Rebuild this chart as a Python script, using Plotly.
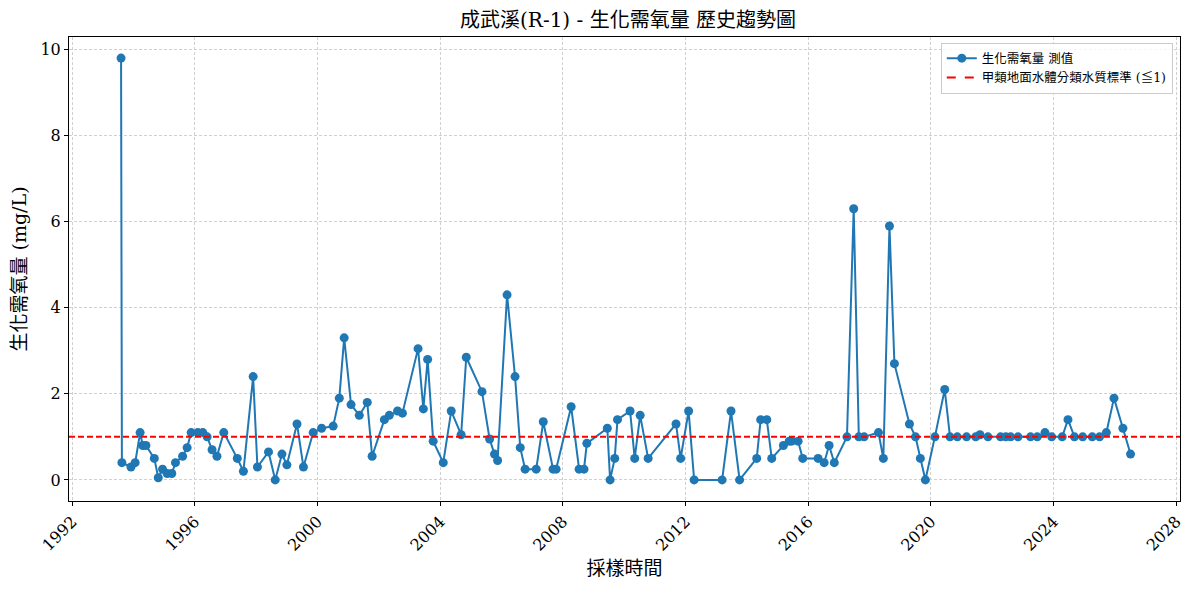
import plotly.graph_objects as go

# 成武溪(R-1) 生化需氧量 測值
sample_dates = [
    "1993-08-05", "1993-08-15", "1993-12-01", "1994-01-20", "1994-03-20", "1994-04-20",
    "1994-05-28", "1994-09-05", "1994-10-22", "1994-12-12", "1995-02-05", "1995-04-01",
    "1995-05-15", "1995-08-08", "1995-10-01", "1995-11-18", "1996-02-05", "1996-04-05",
    "1996-05-26", "1996-07-24", "1996-09-20", "1996-12-10", "1997-05-20", "1997-08-01",
    "1997-11-25", "1998-01-15", "1998-05-27", "1998-08-15", "1998-11-03", "1999-01-01",
    "1999-05-01", "1999-07-17", "1999-11-10", "2000-02-18", "2000-07-05", "2000-09-16",
    "2000-11-13", "2001-02-03", "2001-05-12", "2001-08-15", "2001-10-12", "2002-03-07",
    "2002-05-05", "2002-08-11", "2002-10-08", "2003-04-12", "2003-06-14", "2003-08-04",
    "2003-10-09", "2004-02-06", "2004-05-11", "2004-09-06", "2004-11-06", "2005-05-12",
    "2005-08-11", "2005-10-08", "2005-11-14", "2006-03-07", "2006-06-10", "2006-08-11",
    "2006-10-08", "2007-02-17", "2007-05-12", "2007-09-06", "2007-10-12", "2008-04-08",
    "2008-07-12", "2008-09-08", "2008-10-12", "2009-06-13", "2009-07-16", "2009-09-09",
    "2009-10-12", "2010-03-11", "2010-05-05", "2010-07-09", "2010-10-12", "2011-09-09",
    "2011-11-03", "2012-02-06", "2012-04-12", "2013-03-11", "2013-06-25", "2013-10-05",
    "2014-04-27", "2014-06-13", "2014-08-25", "2014-10-23", "2015-03-11", "2015-05-19",
    "2015-06-17", "2015-09-02", "2015-10-27", "2016-04-27", "2016-07-08", "2016-09-05",
    "2016-11-06", "2017-04-06", "2017-06-25", "2017-08-25", "2017-10-27", "2018-04-16",
    "2018-06-13", "2018-08-25", "2018-10-23", "2019-04-20", "2019-07-01", "2019-08-28",
    "2019-10-27", "2020-02-17", "2020-06-13", "2020-08-15", "2020-11-10", "2021-02-28",
    "2021-06-17", "2021-08-07", "2021-11-10", "2022-04-09", "2022-06-10", "2022-08-07",
    "2022-11-03", "2023-04-01", "2023-06-20", "2023-09-20", "2023-12-09", "2024-04-12",
    "2024-06-20", "2024-09-05", "2024-12-12", "2025-04-05", "2025-07-01", "2025-09-20",
    "2025-12-20", "2026-04-05", "2026-07-05",
]
bod_values = [
    9.8, 0.4, 0.3, 0.4, 1.1, 0.8,
    0.8, 0.5, 0.05, 0.25, 0.15, 0.15,
    0.4, 0.55, 0.75, 1.1, 1.1, 1.1,
    1.0, 0.7, 0.55, 1.1, 0.5, 0.2,
    2.4, 0.3, 0.65, 0.0, 0.6, 0.35,
    1.3, 0.3, 1.1, 1.2, 1.25, 1.9,
    3.3, 1.75, 1.5, 1.8, 0.55, 1.4,
    1.5, 1.6, 1.55, 3.05, 1.65, 2.8,
    0.9, 0.4, 1.6, 1.05, 2.85, 2.05,
    0.95, 0.6, 0.45, 4.3, 2.4, 0.75,
    0.25, 0.25, 1.35, 0.25, 0.25, 1.7,
    0.25, 0.25, 0.85, 1.2, 0.0, 0.5,
    1.4, 1.6, 0.5, 1.5, 0.5, 1.3,
    0.5, 1.6, 0.0, 0.0, 1.6, 0.0,
    0.5, 1.4, 1.4, 0.5, 0.8, 0.9,
    0.9, 0.9, 0.5, 0.5, 0.4, 0.8,
    0.4, 1.0, 6.3, 1.0, 1.0, 1.1,
    0.5, 5.9, 2.7, 1.3, 1.0, 0.5,
    0.0, 1.0, 2.1, 1.0, 1.0, 1.0,
    1.0, 1.05, 1.0, 1.0, 1.0, 1.0,
    1.0, 1.0, 1.0, 1.1, 1.0, 1.0,
    1.4, 1.0, 1.0, 1.0, 1.0, 1.1,
    1.9, 1.2, 0.6,
]
standard_limit = 1.0
x_range = ["1991-11-24", "2028-02-14"]
y_range = [-0.49, 10.29]

font_main = "DejaVu Serif, Noto Sans CJK TC, serif"

fig = go.Figure()
fig.add_trace(go.Scatter(
    x=sample_dates, y=bod_values, mode="lines+markers",
    name="生化需氧量 測值",
    line=dict(color="#1f77b4", width=2),
    marker=dict(color="#1f77b4", size=9),
))
# legend entry for the standard line (line itself drawn as a shape)
fig.add_trace(go.Scatter(
    x=[None], y=[None], mode="lines",
    name="甲類地面水體分類水質標準 (≦1)",
    line=dict(color="red", width=2, dash="dash"),
))
fig.add_hline(y=standard_limit, line=dict(color="red", width=2, dash="6px,3px"))

axis_common = dict(
    showline=True, linecolor="black", linewidth=1, mirror=True,
    ticks="outside", ticklen=4, tickcolor="black",
    showgrid=True, gridcolor="#d0d0d0", griddash="3px,2px", gridwidth=1,
    zeroline=False, automargin=False,
    tickfont=dict(family=font_main, size=16, color="black"),
)

# page is drawn with an 8px body offset, so the figure is sized to fit the window
fig.update_layout(
    width=1181, height=582,
    paper_bgcolor="white", plot_bgcolor="white",
    margin=dict(l=61, r=9, t=29, b=89),
    font=dict(family=font_main, color="black"),
    title=dict(text="成武溪(R-1) - 生化需氧量 歷史趨勢圖", x=0.525, xanchor="center",
               y=0.98, yanchor="middle", font=dict(size=20, family=font_main)),
    xaxis=dict(axis_common, range=x_range, tickformat="%Y", dtick="M48",
               tick0="1992-01-01", tickangle=-45,
               title=dict(text="採樣時間", font=dict(size=19), standoff=8)),
    yaxis=dict(axis_common, range=y_range, dtick=2,
               title=dict(text="生化需氧量 (mg/L)", font=dict(size=19), standoff=12)),
    legend=dict(x=0.9935, xanchor="right", y=0.988, yanchor="top",
                bgcolor="rgba(255,255,255,0.8)", bordercolor="#cccccc", borderwidth=1,
                font=dict(size=12.5, family=font_main)),
    showlegend=True,
)

fig.write_html("out.html")
